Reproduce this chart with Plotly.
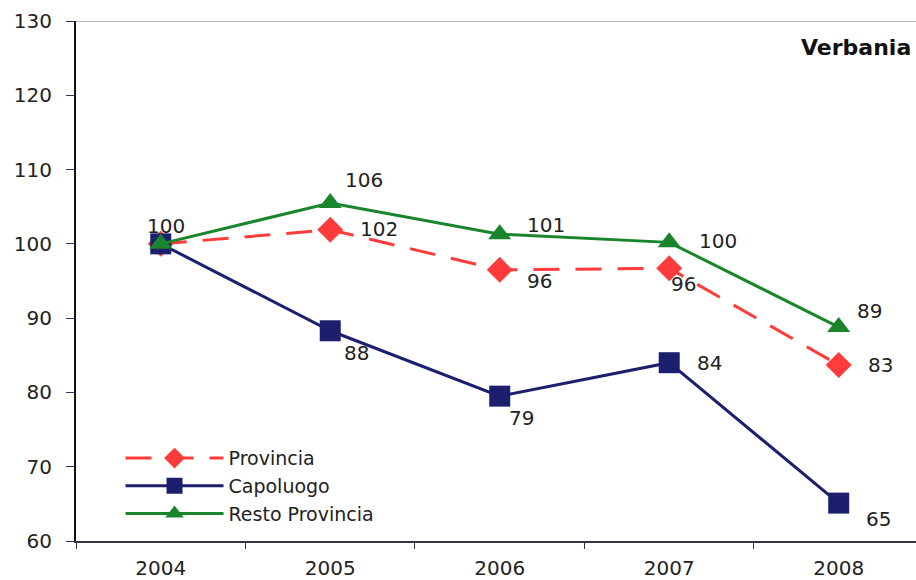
import plotly.graph_objects as go

years = ["2004", "2005", "2006", "2007", "2008"]
provincia = [100, 101.9, 96.5, 96.7, 83.7]
provincia_labels = ["", "102", "96", "96", "83"]
capoluogo = [100, 88.3, 79.5, 84.0, 65.1]
capoluogo_labels = ["100", "88", "79", "84", "65"]
resto = [100, 105.5, 101.3, 100.2, 88.8]
resto_labels = ["", "106", "101", "100", "89"]
y_ticks = [60, 70, 80, 90, 100, 110, 120, 130]

# label offsets in screen pixels (dx right, dy down)
provincia_off = [(0, 0), (49, -1), (40, 11), (14, 16), (42, 0)]
capoluogo_off = [(5, -18), (26, 22), (22, 22), (40, 0), (40, 16)]
resto_off = [(0, 0), (34, -23), (46, -9), (49, -1), (31, -16)]

FONT = "DejaVu Sans, Liberation Sans, Arial"
RED = "#FF3B3B"
NAVY = "#1C1F6E"
GREEN = "#1A852C"

fig = go.Figure()
fig.add_trace(go.Scatter(
    x=years, y=provincia, name="Provincia", mode="lines+markers",
    line=dict(color=RED, width=3, dash="26px,16px"),
    marker=dict(symbol="diamond", size=20, color=RED),
))
fig.add_trace(go.Scatter(
    x=years, y=capoluogo, name="Capoluogo", mode="lines+markers",
    line=dict(color=NAVY, width=3),
    marker=dict(symbol="square", size=21, color=NAVY),
))
fig.add_trace(go.Scatter(
    x=years, y=resto, name="Resto Provincia", mode="lines+markers",
    line=dict(color=GREEN, width=3),
    marker=dict(symbol="triangle-up", size=20, color=GREEN),
))

for vals, labels, offs in [(provincia, provincia_labels, provincia_off),
                           (capoluogo, capoluogo_labels, capoluogo_off),
                           (resto, resto_labels, resto_off)]:
    for i, (yv, lab, (dx, dy)) in enumerate(zip(vals, labels, offs)):
        if not lab:
            continue
        fig.add_annotation(
            x=i, y=yv, xref="x", yref="y", text=lab, showarrow=False,
            xshift=dx, yshift=-dy,
            font=dict(size=20, color="#222222", family=FONT),
        )

fig.add_annotation(
    text="<b>Verbania</b>", xref="paper", yref="paper", x=0.997, y=0.95,
    xanchor="right", yanchor="middle", showarrow=False,
    font=dict(size=22, color="#111111", family=FONT),
)

fig.update_layout(
    width=916, height=580,
    margin=dict(l=76, r=0, t=21, b=39),
    paper_bgcolor="white", plot_bgcolor="white",
    font=dict(family=FONT, size=20, color="#222222"),
    showlegend=True,
    legend=dict(
        x=0.053, y=0.015, xanchor="left", yanchor="bottom",
        bgcolor="rgba(0,0,0,0)", font=dict(size=19, color="#222222", family=FONT),
        itemwidth=98, tracegroupgap=0,
    ),
    xaxis=dict(
        type="category", range=[-0.5, 4.456],
        showgrid=False, showline=True, linecolor="#333344", linewidth=1.5,
        ticks="outside", tickson="boundaries", ticklen=6, tickcolor="#333344",
        tickfont=dict(size=20), ticklabelstandoff=8,
    ),
    yaxis=dict(
        range=[60, 130], tickvals=y_ticks, showgrid=False,
        showline=True, linecolor="#111111", linewidth=2,
        ticks="outside", ticklen=8, tickcolor="#333366",
        tickfont=dict(size=20), zeroline=False, ticklabelstandoff=10,
    ),
    shapes=[dict(type="line", xref="paper", yref="y", x0=0, x1=1, y0=130, y1=130,
                 line=dict(color="#9AA0AA", width=1.5))],
)

fig.write_html(
    "out.html",
    config={"displayModeBar": False},
    post_script="document.body.style.margin='0';document.body.style.overflow='hidden';",
)
